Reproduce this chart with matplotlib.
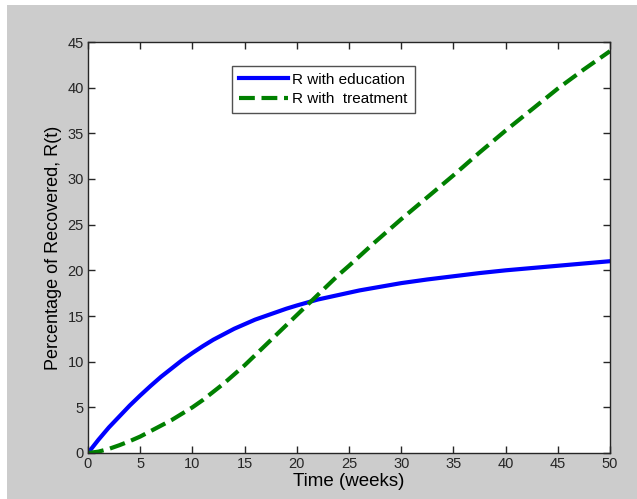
import matplotlib
matplotlib.use("Agg")
import matplotlib.pyplot as plt
from matplotlib.patches import Rectangle

plt.rcParams['font.family'] = ['Liberation Sans', 'DejaVu Sans']

# recovered fraction (%) over time, read at the sample weeks
t_edu = [0, 1, 2, 3, 4, 5, 6, 7, 8, 9, 10, 11, 12, 13, 14, 15, 16, 17, 18, 19, 20,
         22, 24, 26, 28, 30, 32.5, 35, 37.5, 40, 42.5, 45, 47.5, 50]
r_edu = [0, 1.45, 2.8, 4.0, 5.2, 6.3, 7.35, 8.35, 9.25, 10.15, 10.95, 11.7, 12.4, 13.0, 13.6,
         14.1, 14.6, 15.0, 15.4, 15.8, 16.15, 16.8, 17.3, 17.8, 18.2, 18.6, 19.0, 19.35,
         19.7, 20.0, 20.25, 20.5, 20.75, 21.0]

t_treat = [0, 1, 2, 3, 4, 5, 6, 7, 8, 9, 10, 11, 12, 13, 14, 15, 16, 17, 18, 19, 20,
           21, 22, 23, 24, 25, 27.5, 30, 32.5, 35, 37.5, 40, 42.5, 45, 47.5, 50]
r_treat = [0, 0.15, 0.45, 0.85, 1.3, 1.8, 2.4, 3.0, 3.6, 4.3, 5.0, 5.8, 6.7, 7.6, 8.6, 9.6,
           10.7, 11.8, 12.9, 14.0, 15.1, 16.2, 17.3, 18.4, 19.5, 20.5, 23.1, 25.6, 28.0,
           30.4, 32.9, 35.3, 37.6, 39.9, 42.0, 44.0]

xticks = list(range(0, 51, 5))
yticks = list(range(0, 46, 5))

fig = plt.figure(figsize=(6.37, 4.99), dpi=100, facecolor='white')
# grey window background
fig.patches.append(Rectangle((7 / 637, 0), 1, 494 / 499, transform=fig.transFigure,
                             facecolor='#cccccc', edgecolor='none', zorder=-10))

ax = fig.add_axes([88 / 637, 1 - 453 / 499, 522 / 637, 411 / 499])
ax.set_facecolor('white')

ax.plot(t_edu, r_edu, color='#0000ff', lw=3.0, label='R with education')
ax.plot(t_treat, r_treat, color='#008000', lw=3.0, ls=(0, (3.8, 1.6)), label='R with  treatment')

ax.set_xlim(0, 50)
ax.set_ylim(0, 45)
ax.set_xticks(xticks)
ax.set_yticks(yticks)
ax.tick_params(direction='in', length=5, width=1, colors='#262626', labelsize=10.5,
               top=True, right=True, pad=3)
for s in ax.spines.values():
    s.set_color('#262626')
    s.set_linewidth(1)

ax.set_xlabel('Time (weeks)', fontsize=13.5, labelpad=1)
ax.set_ylabel('Percentage of Recovered, R(t)', fontsize=13, labelpad=4)

leg = ax.legend(loc='upper left', bbox_to_anchor=(0.276, 0.942), fontsize=11,
                frameon=True, fancybox=False, handlelength=3.2, handletextpad=0.3,
                borderpad=0.45, labelspacing=0.35, borderaxespad=0)
leg.get_frame().set_edgecolor('#262626')
leg.get_frame().set_linewidth(1)

fig.savefig('out.png', dpi=100, facecolor='white')
